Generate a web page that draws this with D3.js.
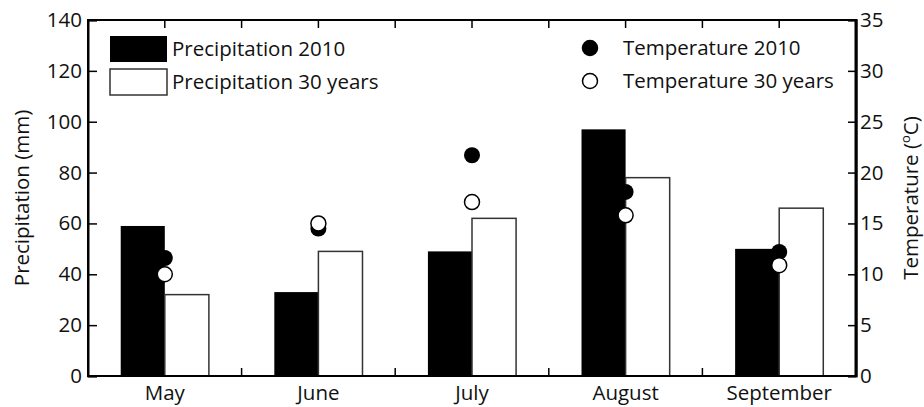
<!DOCTYPE html>
<html>
<head>
<meta charset="utf-8">
<script src="https://cdn.jsdelivr.net/npm/d3@7"></script>
<style>
  body { margin: 0; background: #fff; }
  text { font-family: "Open Sans", sans-serif; fill: #111; }
</style>
</head>
<body>
<script>
var months = ["May", "June", "July", "August", "September"];
var precip2010 = [59, 33, 49, 97, 50];
var precip30 = [32, 49, 62, 78, 66];
var temp2010 = [11.6, 14.5, 21.7, 18.1, 12.2];
var temp30 = [10.0, 15.0, 17.1, 15.8, 10.9];
var precipTicks = [0, 20, 40, 60, 80, 100, 120, 140];
var tempTicks = [0, 5, 10, 15, 20, 25, 30, 35];

var width = 924, height = 407;
var margin = {left: 88, right: 68, top: 20, bottom: 31};
var fs = "20.5px";

var svg = d3.select("body").append("svg")
  .attr("width", width)
  .attr("height", height);

var x = d3.scaleBand()
  .domain(months)
  .range([margin.left, width - margin.right]);

var yP = d3.scaleLinear()
  .domain([0, 140])
  .range([height - margin.bottom, margin.top]);

var yT = d3.scaleLinear()
  .domain([0, 35])
  .range([height - margin.bottom, margin.top]);

var barW = x.bandwidth() * 0.287;

// bars
svg.append("g").selectAll("rect")
  .data(precip2010)
  .enter().append("rect")
  .attr("x", function(d, i) { return x(months[i]) + x.bandwidth() / 2 - barW; })
  .attr("y", function(d) { return yP(d); })
  .attr("width", barW)
  .attr("height", function(d) { return yP(0) - yP(d); })
  .attr("fill", "#000");

svg.append("g").selectAll("rect")
  .data(precip30)
  .enter().append("rect")
  .attr("x", function(d, i) { return x(months[i]) + x.bandwidth() / 2; })
  .attr("y", function(d) { return yP(d); })
  .attr("width", barW)
  .attr("height", function(d) { return yP(0) - yP(d); })
  .attr("fill", "#fff")
  .attr("stroke", "#333")
  .attr("stroke-width", 1.5);

// temperature points
svg.append("g").selectAll("circle")
  .data(temp2010)
  .enter().append("circle")
  .attr("cx", function(d, i) { return x(months[i]) + x.bandwidth() / 2; })
  .attr("cy", function(d) { return yT(d); })
  .attr("r", 8)
  .attr("fill", "#000");

svg.append("g").selectAll("circle")
  .data(temp30)
  .enter().append("circle")
  .attr("cx", function(d, i) { return x(months[i]) + x.bandwidth() / 2; })
  .attr("cy", function(d) { return yT(d); })
  .attr("r", 7.5)
  .attr("fill", "#fff")
  .attr("stroke", "#000")
  .attr("stroke-width", 1.5);

// frame ticks (top & bottom, inward)
var xt = [];
months.forEach(function(m) {
  xt.push(x(m) + x.bandwidth() / 2);
});
months.slice(1).forEach(function(m) { xt.push(x(m)); });

svg.append("g").selectAll("line")
  .data(xt)
  .enter().append("line")
  .attr("x1", function(d) { return d; })
  .attr("x2", function(d) { return d; })
  .attr("y1", margin.top)
  .attr("y2", margin.top + 8)
  .attr("stroke", "#000")
  .attr("stroke-width", 1.5);

svg.append("g").selectAll("line")
  .data(x.domain().slice(1).map(function(m) { return x(m); }))
  .enter().append("line")
  .attr("x1", function(d) { return d; })
  .attr("x2", function(d) { return d; })
  .attr("y1", height - margin.bottom)
  .attr("y2", height - margin.bottom - 8)
  .attr("stroke", "#000")
  .attr("stroke-width", 1.5);

// axes
var leftAxis = svg.append("g")
  .attr("transform", "translate(" + margin.left + ",0)")
  .call(d3.axisLeft(yP).tickValues(precipTicks).tickSize(-9).tickPadding(18));

var rightAxis = svg.append("g")
  .attr("transform", "translate(" + (width - margin.right) + ",0)")
  .call(d3.axisRight(yT).tickValues(tempTicks).tickSize(-8).tickPadding(13));

var bottomAxis = svg.append("g")
  .attr("transform", "translate(0," + (height - margin.bottom) + ")")
  .call(d3.axisBottom(x).tickSize(0).tickPadding(9));

[leftAxis, rightAxis, bottomAxis].forEach(function(a) {
  a.selectAll("text").style("font-size", fs).attr("font-family", null);
  a.selectAll(".tick line").attr("stroke-width", 1.5);
  a.select(".domain").attr("stroke-width", 2);
});
leftAxis.selectAll("text").attr("x", -6);
rightAxis.selectAll("text").attr("x", 4);
bottomAxis.select(".domain").remove();

// frame
svg.append("rect")
  .attr("x", margin.left)
  .attr("y", margin.top)
  .attr("width", width - margin.left - margin.right)
  .attr("height", height - margin.top - margin.bottom)
  .attr("fill", "none")
  .attr("stroke", "#000")
  .attr("stroke-width", 2);
svg.append("line")
  .attr("x1", width - margin.right).attr("x2", width - margin.right)
  .attr("y1", margin.top - 1).attr("y2", height - margin.bottom + 1)
  .attr("stroke", "#000").attr("stroke-width", 3);

// axis titles
svg.append("text")
  .attr("transform", "translate(29," + yP(70) + ") rotate(-90)")
  .attr("text-anchor", "middle")
  .style("font-size", fs)
  .text("Precipitation (mm)");

var tt = svg.append("text")
  .attr("transform", "translate(918," + yT(17.5) + ") rotate(-90)")
  .attr("text-anchor", "middle")
  .style("font-size", fs);
tt.append("tspan").text("Temperature (");
tt.append("tspan").attr("dy", -8).style("font-size", "13px").text("o");
tt.append("tspan").attr("dy", 8).text("C)");

// legend
var legP = [
  {label: "Precipitation 2010", fill: "#000", stroke: "none"},
  {label: "Precipitation 30 years", fill: "#fff", stroke: "#333"}
];
var legT = [
  {label: "Temperature 2010", fill: "#000"},
  {label: "Temperature 30 years", fill: "#fff"}
];

var lp = svg.append("g").selectAll("g")
  .data(legP).enter().append("g")
  .attr("transform", function(d, i) { return "translate(110," + (36 + i * 33) + ")"; });
lp.append("rect")
  .attr("width", 57).attr("height", 26)
  .attr("fill", function(d) { return d.fill; })
  .attr("stroke", function(d) { return d.stroke; })
  .attr("stroke-width", 1.5);
lp.append("text")
  .attr("x", 62).attr("y", 13).attr("dy", "0.35em")
  .style("font-size", fs)
  .text(function(d) { return d.label; });

var lt = svg.append("g").selectAll("g")
  .data(legT).enter().append("g")
  .attr("transform", function(d, i) { return "translate(590," + (48 + i * 33) + ")"; });
lt.append("circle")
  .attr("r", 7.5)
  .attr("fill", function(d) { return d.fill; })
  .attr("stroke", "#000")
  .attr("stroke-width", 1.5);
lt.append("text")
  .attr("x", 33).attr("dy", "0.35em")
  .style("font-size", fs)
  .text(function(d) { return d.label; });
</script>
</body>
</html>
